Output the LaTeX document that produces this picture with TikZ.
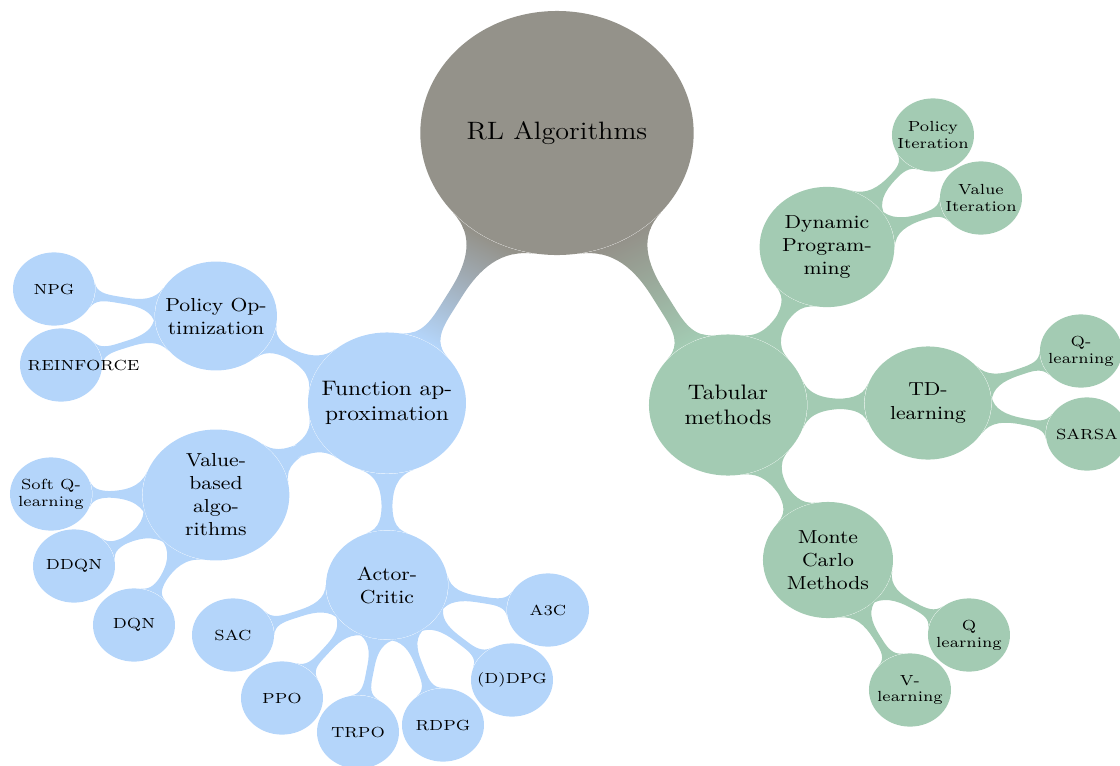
\documentclass[tikz,border=0pt]{standalone}
\usetikzlibrary{mindmap}
\pgfdeclarelayer{background}
\pgfsetlayers{background,main}
\definecolor{rootgray}{RGB}{148,146,138}
\definecolor{fablue}{RGB}{180,213,250}
\definecolor{tabgreen}{RGB}{163,203,179}
\begin{document}
\begin{tikzpicture}[x=0.0168cm,y=-0.0168cm,
  % the whole map is widened a little on the canvas
  widened/.style={transform canvas={xscale=1.12}, x=0.015cm, y=-0.0168cm},
  bubble/.style={circle, fill=#1, text=black, inner sep=0pt, align=center},
  rootbubble/.style={bubble=rootgray, minimum size=4.1cm, font=\large},
  mainA/.style={bubble=fablue, minimum size=2.37cm, font=\normalsize},
  mainB/.style={bubble=tabgreen, minimum size=2.37cm, font=\normalsize},
  subA/.style={bubble=fablue, minimum size=1.83cm, font=\small},
  subB/.style={bubble=tabgreen, minimum size=1.9cm, font=\small},
  leafA/.style={bubble=fablue, minimum size=1.23cm, font=\scriptsize},
  leafB/.style={bubble=tabgreen, minimum size=1.23cm, font=\scriptsize},
  barA/.style={circle connection bar, concept color=fablue, fill=fablue},
  barB/.style={circle connection bar, concept color=tabgreen, fill=tabgreen},
]
\useasboundingbox (0,0) rectangle (1120,766);

\begin{scope}[widened]
% root
\node[rootbubble] (root) at (557,133) {RL Algorithms};

% function approximation branch
\node[mainA] (fa) at (387,403) {Function ap-\\proximation};
\node[subA] (po) at (216,316) {Policy Op-\\timization};
\node[subA, minimum size=2.2cm] (vb) at (216,495) {Value-\\based\\algo-\\rithms};
\node[subA] (ac) at (387,585) {Actor-\\Critic};
\node[leafA] (npg) at (54,289) {NPG};
\node[leafA] (rf) at (61,365) {\makebox[1cm][l]{REINFORCE}};
\node[leafA] (sq) at (51,494) {Soft Q-\\learning};
\node[leafA] (ddqn) at (74,566) {DDQN};
\node[leafA] (dqn) at (134,625) {DQN};
\node[leafA] (sac) at (233,635) {SAC};
\node[leafA] (ppo) at (282,698) {PPO};
\node[leafA] (trpo) at (358,732) {TRPO};
\node[leafA] (rdpg) at (443,725) {RDPG};
\node[leafA] (ddpg) at (512,680) {(D)DPG};
\node[leafA] (a3c) at (548,610) {A3C};

% tabular branch
\node[mainB] (tm) at (728,405) {Tabular\\methods};
\node[subB, minimum size=2.02cm] (dp) at (827,247) {Dynamic\\Program-\\ming};
\node[subB] (td) at (928,403) {TD-\\learning};
\node[subB, minimum size=1.95cm] (mc) at (828,560) {Monte\\Carlo\\Methods};
\node[leafB] (pi) at (933,135) {Policy\\Iteration};
\node[leafB] (vi) at (981,198) {Value\\Iteration};
\node[leafB] (ql) at (1081,351) {Q-\\learning};
\node[leafB] (sarsa) at (1087,434) {SARSA};
\node[leafB] (qmc) at (969,635) {Q\\learning};
\node[leafB] (vl) at (910,690) {V-\\learning};
\end{scope}

\begin{pgfonlayer}{background}
\begin{scope}[widened]
  \path (root) to[circle connection bar switch color=from (rootgray) to (fablue), line width=10pt] (fa);
  \path (root) to[circle connection bar switch color=from (rootgray) to (tabgreen), line width=10pt] (tm);
  \begin{scope}[line width=6.4pt]
    \path[barA] (fa) to (po);
    \path[barA] (fa) to (vb);
    \path[barA] (fa) to (ac);
    \path[barB] (tm) to (dp);
    \path[barB] (tm) to (td);
    \path[barB] (tm) to (mc);
  \end{scope}
  \begin{scope}[line width=3.6pt]
    \path[barA] (po) to (npg);
    \path[barA] (po) to (rf);
    \path[barA] (vb) to (sq);
    \path[barA] (vb) to (ddqn);
    \path[barA] (vb) to (dqn);
    \path[barA] (ac) to (sac);
    \path[barA] (ac) to (ppo);
    \path[barA] (ac) to (trpo);
    \path[barA] (ac) to (rdpg);
    \path[barA] (ac) to (ddpg);
    \path[barA] (ac) to (a3c);
    \path[barB] (dp) to (pi);
    \path[barB] (dp) to (vi);
    \path[barB] (td) to (ql);
    \path[barB] (td) to (sarsa);
    \path[barB] (mc) to (qmc);
    \path[barB] (mc) to (vl);
  \end{scope}
\end{scope}
\end{pgfonlayer}
\end{tikzpicture}
\end{document}
